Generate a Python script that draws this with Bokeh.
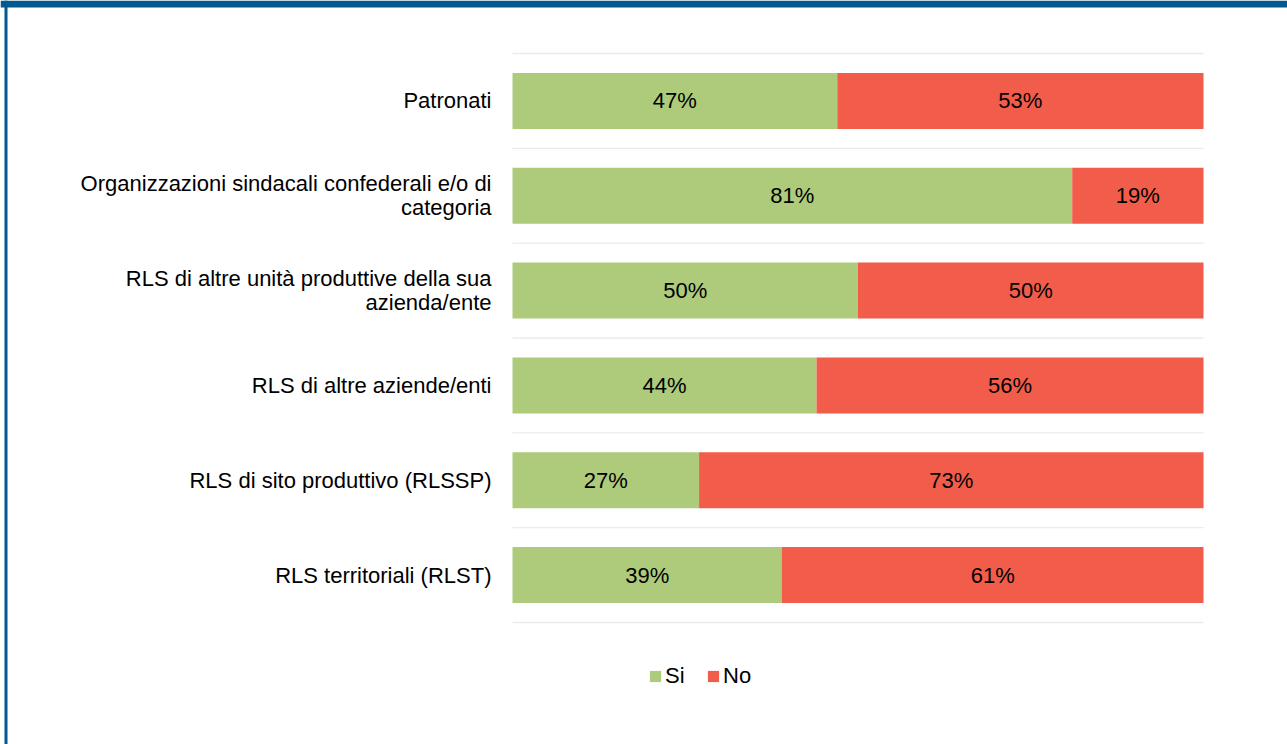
from bokeh.plotting import figure
from bokeh.models import Range1d, Legend, LegendItem, BoxAnnotation, ColumnDataSource
from bokeh.core.properties import value
from bokeh.embed import file_html
from bokeh.resources import INLINE

# ---- data ----
categories = [
    "Patronati",
    "Organizzazioni sindacali confederali e/o di categoria",
    "RLS di altre unità produttive della sua azienda/ente",
    "RLS di altre aziende/enti",
    "RLS di sito produttivo (RLSSP)",
    "RLS territoriali (RLST)",
]
# how the category labels wrap (as in the reference)
label_lines = [
    ["Patronati"],
    ["Organizzazioni sindacali confederali e/o di", "categoria"],
    ["RLS di altre unità produttive della sua", "azienda/ente"],
    ["RLS di altre aziende/enti"],
    ["RLS di sito produttivo (RLSSP)"],
    ["RLS territoriali (RLST)"],
]
si_values = [47, 81, 50, 44, 27, 39]
no_values = [53, 19, 50, 56, 73, 61]
series_names = ["Si", "No"]

# ---- style / layout ----
GREEN = "#ADCB7B"
RED = "#F25C4A"
FRAME_BLUE = "#03588F"
GRID = "#EBEBEB"
FONT = "Liberation Sans"
FS = "22px"

W, H = 1287, 744
PLOT_L, PLOT_R = 512, 1203        # bar area, px
PLOT_T, PLOT_B = 53, 622
n = len(categories)
px_per_x = (PLOT_R - PLOT_L) / 100.0
px_per_y = (PLOT_B - PLOT_T) / n

x_range = Range1d(-PLOT_L / px_per_x, (W - PLOT_L) / px_per_x)
y_range = Range1d(-(H - PLOT_B) / px_per_y, n + PLOT_T / px_per_y)

p = figure(width=W, height=H, x_range=x_range, y_range=y_range,
           output_backend="svg", toolbar_location=None,
           min_border=0, min_border_left=0, min_border_right=0,
           min_border_top=0, min_border_bottom=0)
p.outline_line_color = None
p.background_fill_color = "white"
p.border_fill_color = "white"
p.xaxis.visible = False
p.yaxis.visible = False
p.grid.visible = False

# category positions on the y scale (first category on top)
y_pos = [n - i - 0.5 for i in range(n)]

# gridlines at category boundaries
bounds = list(range(n + 1))
p.segment(x0=[0] * (n + 1), x1=[100] * (n + 1), y0=bounds, y1=bounds,
          line_color=GRID, line_width=1.3)

right_no = [s + v for s, v in zip(si_values, no_values)]
src = ColumnDataSource(dict(
    y=y_pos, zero=[0] * n, si=si_values, no=no_values, r_no=right_no,
    c_si=[v / 2 for v in si_values],
    c_no=[s + v / 2 for s, v in zip(si_values, no_values)],
    t_si=[f"{v}%" for v in si_values],
    t_no=[f"{v}%" for v in no_values]))

r_si = p.hbar(y="y", left="zero", right="si", height=0.59, source=src,
              fill_color=GREEN, line_color=None)
r_no = p.hbar(y="y", left="si", right="r_no", height=0.59, source=src,
              fill_color=RED, line_color=None)

for col_x, col_t in (("c_si", "t_si"), ("c_no", "t_no")):
    p.text(x=col_x, y="y", text=col_t, source=src,
           text_align="center", text_baseline="middle",
           text_font=value(FONT), text_font_size=FS, text_color="#000000")

# category labels (right-aligned left of the bars, wrapped lines)
LINE_H = 24
lx, ly, lt, loff = [], [], [], []
for yc, lines in zip(y_pos, label_lines):
    k = len(lines)
    for j, t in enumerate(lines):
        lx.append(0)
        ly.append(yc)
        lt.append(t)
        loff.append((j - (k - 1) / 2) * LINE_H)
p.text(x=lx, y=ly, text=lt, y_offset=loff, x_offset=-21,
       text_align="right", text_baseline="middle",
       text_font=value(FONT), text_font_size=FS, text_color="#000000")

legend = Legend(items=[LegendItem(label=series_names[0], renderers=[r_si]),
                       LegendItem(label=series_names[1], renderers=[r_no])],
                location=(648, 47 + (H - 736)), orientation="horizontal",
                glyph_width=14, glyph_height=14, label_standoff=3, spacing=21,
                padding=0, margin=0, border_line_color=None,
                background_fill_alpha=0,
                label_text_font=FONT, label_text_font_size=FS,
                label_text_color="#000000")
p.add_layout(legend, "center")

# outer frame of the chart (top band and left rule)
p.add_layout(BoxAnnotation(left=0, right=W, bottom=H - 7, top=H,
                           left_units="screen", right_units="screen",
                           top_units="screen", bottom_units="screen",
                           fill_color=FRAME_BLUE, fill_alpha=1, line_color=None))
p.add_layout(BoxAnnotation(left=4, right=7, bottom=0, top=H,
                           left_units="screen", right_units="screen",
                           top_units="screen", bottom_units="screen",
                           fill_color=FRAME_BLUE, fill_alpha=1, line_color=None))

open("out.html", "w").write(file_html(p, INLINE))
